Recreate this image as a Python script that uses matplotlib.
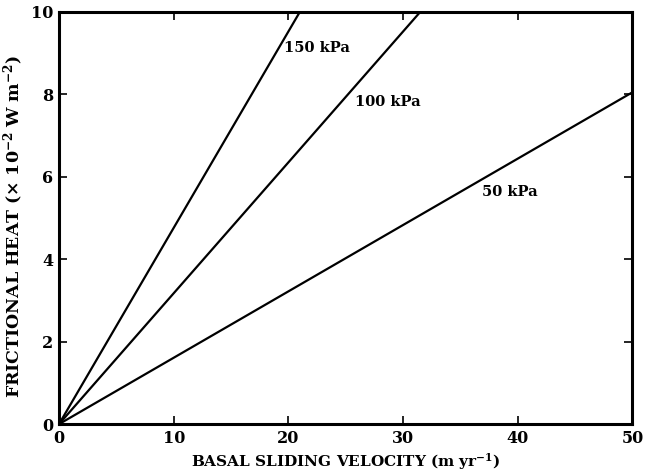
import matplotlib
matplotlib.use('Agg')
from matplotlib import pyplot as plt

# basal shear stress lines: (velocity, frictional heat) end points
labels = ['150 kPa', '100 kPa', '50 kPa']
vel_150 = [0, 21.0]
heat_150 = [0, 10]
vel_100 = [0, 31.5]
heat_100 = [0, 10]
vel_50 = [0, 50]
heat_50 = [0, 8.05]

x_ticks = [0, 10, 20, 30, 40, 50]
y_ticks = [0, 2, 4, 6, 8, 10]


def main():
    plt.rcParams['font.family'] = ['DejaVu Serif']
    plt.rcParams['mathtext.fontset'] = 'dejavuserif'

    fig = plt.figure(figsize=(6.45, 4.76), dpi=100)
    ax = fig.add_axes([0.0915, 0.109, 0.889, 0.866])

    for xs, ys in [(vel_150, heat_150), (vel_100, heat_100), (vel_50, heat_50)]:
        ax.plot(xs, ys, color='black', linewidth=1.6, solid_capstyle='butt')

    ax.text(19.6, 9.12, labels[0], fontsize=10.5, fontweight='bold', va='center')
    ax.text(25.8, 7.82, labels[1], fontsize=10.5, fontweight='bold', va='center')
    ax.text(36.9, 5.62, labels[2], fontsize=10.5, fontweight='bold', va='center')

    ax.set_xlim(0, 50)
    ax.set_ylim(0, 10)
    ax.set_xticks(x_ticks)
    ax.set_yticks(y_ticks)
    ax.set_xticklabels([str(t) for t in x_ticks], fontsize=11.5, fontweight='bold')
    ax.set_yticklabels([str(t) for t in y_ticks], fontsize=11.5, fontweight='bold')
    ax.tick_params(direction='in', top=True, right=True, length=6, width=1.2, pad=4)

    for sp in ax.spines.values():
        sp.set_linewidth(2.2)

    ax.set_xlabel(r'BASAL SLIDING VELOCITY $\mathregular{(m\ yr^{-1})}$',
                  fontsize=11, fontweight='bold', labelpad=3)
    ax.set_ylabel(r'FRICTIONAL HEAT ($\mathregular{\times\ 10^{-2}\ W\ m^{-2}}$)',
                  fontsize=12.5, fontweight='bold')
    ax.yaxis.set_label_coords(-0.058, 0.48)

    fig.savefig('out.png', dpi=100)


if __name__ == '__main__':
    main()
